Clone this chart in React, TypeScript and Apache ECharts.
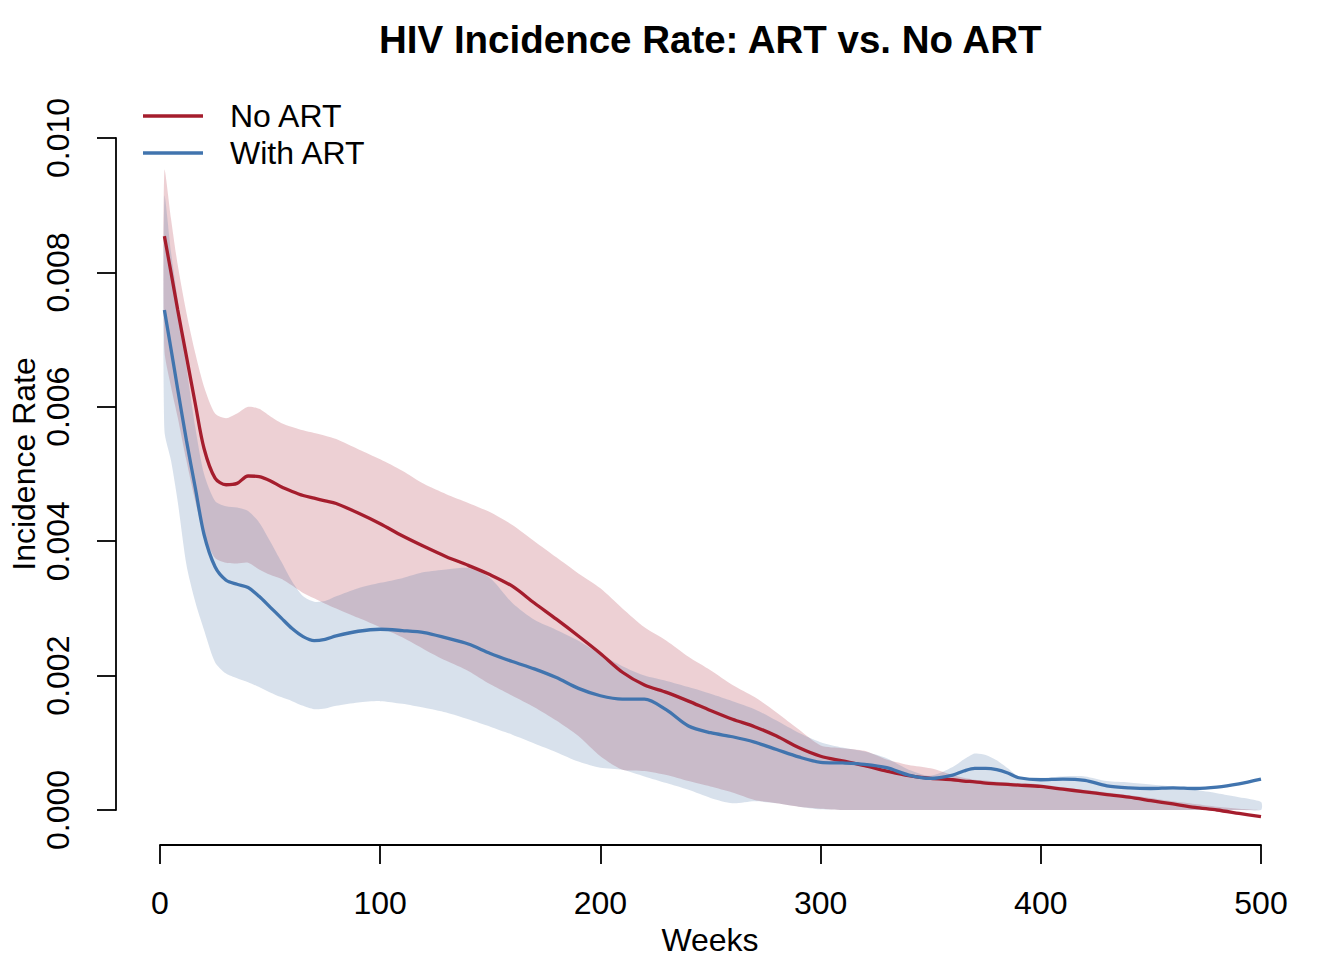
import React, { useEffect, useRef } from "react";
import * as echarts from "echarts";

const weeks = [2, 5, 8, 12, 16, 20, 25, 30, 35, 40, 45, 50, 55, 60, 65, 70, 75, 80, 90, 100, 110, 120, 130, 140, 150, 160, 170, 180, 190, 200, 210, 220, 230, 240, 250, 260, 270, 280, 290, 300, 310, 320, 330, 340, 350, 360, 365, 370, 375, 380, 385, 390, 400, 410, 420, 430, 440, 450, 460, 470, 480, 490, 500];

const noArtRate = [0.00854, 0.00800, 0.00745, 0.00675, 0.00605, 0.00538, 0.00494, 0.00484, 0.00486, 0.00497, 0.00496, 0.00490, 0.00481, 0.00474, 0.00468, 0.00464, 0.00460, 0.00456, 0.00442, 0.00426, 0.00408, 0.00392, 0.00377, 0.00364, 0.00350, 0.00333, 0.00308, 0.00284, 0.00259, 0.00233, 0.00205, 0.00186, 0.00175, 0.00162, 0.00148, 0.00135, 0.00124, 0.00110, 0.00093, 0.00080, 0.00073, 0.00066, 0.00058, 0.00051, 0.00047, 0.00045, 0.00043, 0.00042, 0.00040, 0.00039, 0.00038, 0.00037, 0.00035, 0.00031, 0.00027, 0.00023, 0.00019, 0.00014, 0.00009, 0.00004, 0.00000, -0.00005, -0.00010];

const noArtUpper = [0.00952, 0.00880, 0.00812, 0.00740, 0.00680, 0.00630, 0.00590, 0.00583, 0.00590, 0.00600, 0.00597, 0.00586, 0.00576, 0.00570, 0.00565, 0.00561, 0.00557, 0.00552, 0.00537, 0.00522, 0.00505, 0.00485, 0.00470, 0.00457, 0.00443, 0.00424, 0.00400, 0.00376, 0.00352, 0.00330, 0.00300, 0.00272, 0.00252, 0.00228, 0.00208, 0.00186, 0.00168, 0.00145, 0.00120, 0.00096, 0.00092, 0.00088, 0.00075, 0.00067, 0.00062, 0.00052, 0.00048, 0.00045, 0.00044, 0.00042, 0.00041, 0.00040, 0.00038, 0.00034, 0.00030, 0.00026, 0.00022, 0.00018, 0.00013, 0.00009, 0.00005, 0.00002, 0.00000];

const noArtLower = [0.00685, 0.00630, 0.00585, 0.00520, 0.00460, 0.00410, 0.00375, 0.00368, 0.00367, 0.00368, 0.00358, 0.00350, 0.00344, 0.00334, 0.00323, 0.00315, 0.00307, 0.00300, 0.00286, 0.00272, 0.00257, 0.00239, 0.00222, 0.00207, 0.00187, 0.00170, 0.00153, 0.00133, 0.00110, 0.00080, 0.00060, 0.00058, 0.00052, 0.00043, 0.00035, 0.00026, 0.00015, 0.00010, 0.00005, 0.00002, 0, 0, 0, 0, 0, 0, 0, 0, 0, 0, 0, 0, 0, 0, 0, 0, 0, 0, 0, 0, 0, 0, 0];

const withArtRate = [0.00744, 0.00686, 0.00627, 0.00550, 0.00480, 0.00410, 0.00362, 0.00342, 0.00336, 0.00331, 0.00318, 0.00302, 0.00286, 0.00270, 0.00258, 0.00252, 0.00254, 0.00259, 0.00266, 0.00269, 0.00267, 0.00264, 0.00256, 0.00247, 0.00233, 0.00221, 0.00210, 0.00197, 0.00181, 0.00170, 0.00165, 0.00165, 0.00149, 0.00125, 0.00115, 0.00109, 0.00101, 0.00090, 0.00079, 0.00071, 0.00070, 0.00068, 0.00063, 0.00052, 0.00047, 0.00052, 0.00058, 0.00062, 0.00062, 0.00060, 0.00055, 0.00048, 0.00045, 0.00046, 0.00044, 0.00036, 0.00033, 0.00032, 0.00033, 0.00032, 0.00034, 0.00039, 0.00046];

const withArtUpper = [0.00913, 0.00830, 0.00760, 0.00660, 0.00570, 0.00500, 0.00460, 0.00452, 0.00450, 0.00445, 0.00428, 0.00400, 0.00370, 0.00340, 0.00318, 0.00310, 0.00311, 0.00318, 0.00330, 0.00338, 0.00345, 0.00354, 0.00358, 0.00360, 0.00345, 0.00308, 0.00283, 0.00268, 0.00252, 0.00232, 0.00214, 0.00200, 0.00192, 0.00183, 0.00173, 0.00162, 0.00150, 0.00133, 0.00115, 0.00101, 0.00093, 0.00087, 0.00077, 0.00060, 0.00051, 0.00064, 0.00075, 0.00084, 0.00082, 0.00074, 0.00062, 0.00050, 0.00048, 0.00050, 0.00050, 0.00043, 0.00041, 0.00038, 0.00035, 0.00030, 0.00025, 0.00019, 0.00012];

const withArtLower = [0.00565, 0.00520, 0.00460, 0.00365, 0.00310, 0.00268, 0.00220, 0.00203, 0.00196, 0.00190, 0.00183, 0.00175, 0.00168, 0.00162, 0.00155, 0.00150, 0.00151, 0.00155, 0.00160, 0.00162, 0.00158, 0.00152, 0.00145, 0.00135, 0.00124, 0.00112, 0.00099, 0.00086, 0.00072, 0.00063, 0.00060, 0.00050, 0.00040, 0.00030, 0.00018, 0.00010, 0.00013, 0.00010, 0.00005, 0.00001, 0, 0, 0, 0, 0, 0, 0, 0, 0, 0, 0, 0, 0, 0, 0, 0, 0, 0, 0, 0, 0, 0, 0];

const xTicks = { min: 0, max: 500, step: 100 };
const yTicks = { min: 0, max: 0.01, step: 0.002 };

const FONT = "'Liberation Sans', Arial, Helvetica, sans-serif";
const RED = "#A51D2D";
const BLUE = "#4174AE";
const RED_BAND = "rgba(165,20,40,0.2)";
const BLUE_BAND = "rgba(60,105,160,0.2)";

function pairs(ys: number[]) {
  return weeks.map((w, i) => [w, ys[i]]);
}

export default function App() {
  const ref = useRef<HTMLDivElement>(null);

  useEffect(() => {
    if (!ref.current) return;
    const chart = echarts.init(ref.current, undefined, { renderer: "svg" });
    const smooth = 0.3;

    const band = (name: string, lo: number[], hi: number[], color: string) => ({
      name,
      type: "custom",
      silent: true,
      clip: false,
      encode: { x: 0, y: [1, 2] },
      data: weeks.map((w, i) => [w, lo[i], hi[i]]),
      renderItem: (params: any, api: any) => {
        if (params.dataIndex !== 0) return null;
        const top = weeks.map((w, i) => api.coord([w, hi[i]]));
        const bottom = weeks.map((w, i) => api.coord([w, lo[i]])).reverse();
        return {
          type: "polygon",
          shape: { points: top.concat(bottom), smooth: 0.25 },
          style: { fill: color, stroke: "none" },
        };
      },
    });

    const line = (name: string, ys: number[], color: string) => ({
      name,
      type: "line",
      data: pairs(ys),
      symbol: "none",
      smooth,
      lineStyle: { color, width: 3.3 },
      itemStyle: { color },
      clip: false,
      z: 5,
    });

    chart.setOption({
      animation: false,
      backgroundColor: "#ffffff",
      textStyle: { fontFamily: FONT },
      title: {
        text: "HIV Incidence Rate: ART vs. No ART",
        left: 379,
        top: 20,
        padding: 0,
        textStyle: { fontFamily: FONT, fontSize: 38.5, fontWeight: "bold", color: "#000" },
      },
      legend: {
        data: ["No ART", "With ART"],
        orient: "vertical",
        left: 143,
        top: 100,
        padding: 0,
        itemGap: 5,
        itemWidth: 60,
        itemHeight: 3.4,
        icon: "rect",
        selectedMode: false,
        textStyle: { fontFamily: FONT, fontSize: 32, color: "#000", lineHeight: 32, padding: [0, 0, 0, 22] },
      },
      grid: { left: 160, right: 83, top: 138, bottom: 150, containLabel: false },
      xAxis: {
        type: "value",
        min: xTicks.min,
        max: xTicks.max,
        interval: xTicks.step,
        offset: 35,
        axisLine: { show: true, onZero: false, lineStyle: { color: "#000", width: 1.8 } },
        axisTick: { show: true, length: 19, lineStyle: { color: "#000", width: 1.8 } },
        axisLabel: { fontFamily: FONT, fontSize: 32, color: "#000", margin: 42 },
        splitLine: { show: false },
      },
      yAxis: {
        type: "value",
        min: yTicks.min,
        max: yTicks.max,
        interval: yTicks.step,
        offset: 44,
        axisLine: { show: true, onZero: false, lineStyle: { color: "#000", width: 1.8 } },
        axisTick: { show: true, length: 19, lineStyle: { color: "#000", width: 1.8 } },
        axisLabel: {
          fontFamily: FONT,
          fontSize: 32,
          color: "#000",
          rotate: 90,
          margin: 42,
          formatter: (v: number) => v.toFixed(3),
        },
        splitLine: { show: false },
      },
      graphic: [
        {
          type: "text",
          x: 710,
          y: 940,
          style: { text: "Weeks", font: `32px ${FONT}`, fill: "#000", textAlign: "center", textVerticalAlign: "middle" },
        },
        {
          type: "text",
          x: 24,
          y: 464,
          rotation: Math.PI / 2,
          style: { text: "Incidence Rate", font: `32px ${FONT}`, fill: "#000", textAlign: "center", textVerticalAlign: "middle" },
        },
      ],
      series: [
        band("noArtBand", noArtLower, noArtUpper, RED_BAND),
        band("withArtBand", withArtLower, withArtUpper, BLUE_BAND),
        line("No ART", noArtRate, RED),
        line("With ART", withArtRate, BLUE),
      ],
    });
    return () => chart.dispose();
  }, []);

  return <div ref={ref} style={{ position: "fixed", left: 0, top: 0, width: 1344, height: 960, background: "#fff" }} />;
}
